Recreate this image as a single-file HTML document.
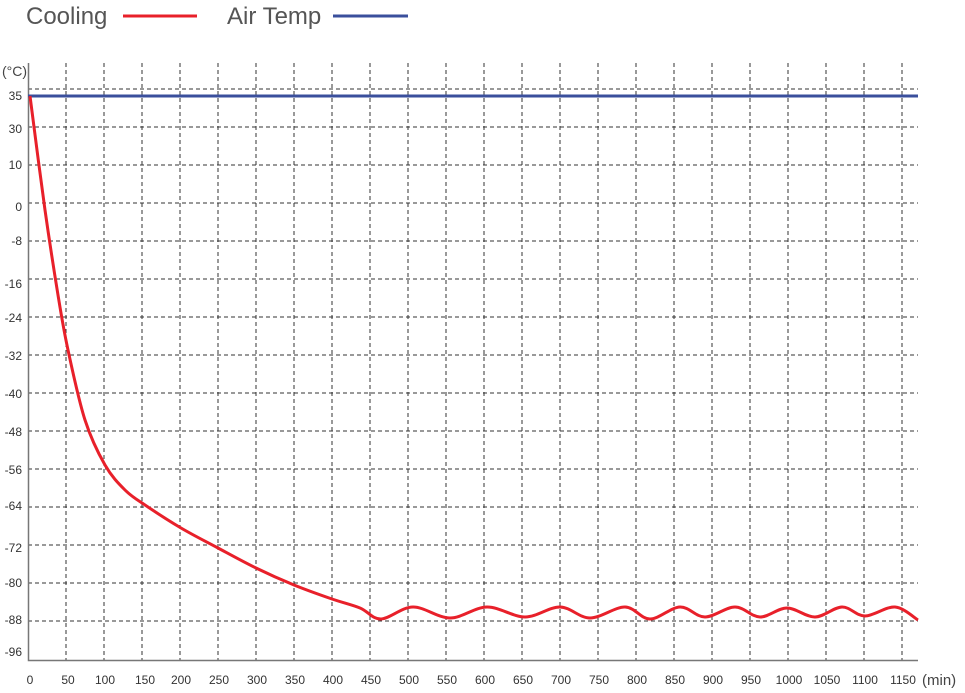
<!DOCTYPE html>
<html><head><meta charset="utf-8"><style>
html,body{margin:0;padding:0;background:#fff;}
svg{display:block;font-family:"Liberation Sans",sans-serif;}
</style></head><body>
<svg width="965" height="693" viewBox="0 0 965 693" xmlns="http://www.w3.org/2000/svg">
<text x="26" y="24" font-size="24" fill="#555">Cooling</text>
<line x1="123" y1="16" x2="197" y2="16" stroke="#e8202a" stroke-width="3"/>
<text x="227" y="24" font-size="24" fill="#555">Air Temp</text>
<line x1="333" y1="16" x2="408" y2="16" stroke="#3a4f9c" stroke-width="3"/>
<text x="2" y="76" font-size="14" fill="#444">(°C)</text>
<g stroke="#333" stroke-width="1" stroke-dasharray="4,3">
<path d="M28 89H918M28 127H918M28 165H918M28 203H918M28 241H918M28 279H918M28 317H918M28 355H918M28 393H918M28 431H918M28 469H918M28 507H918M28 545H918M28 583H918M28 621H918"/>
<path d="M66 63V660M104 63V660M142 63V660M180 63V660M218 63V660M256 63V660M294 63V660M332 63V660M370 63V660M408 63V660M446 63V660M484 63V660M522 63V660M560 63V660M598 63V660M636 63V660M674 63V660M712 63V660M750 63V660M788 63V660M826 63V660M864 63V660M902 63V660"/>
</g>
<path d="M28.5 63V660.5H918" fill="none" stroke="#777" stroke-width="1.5"/>
<line x1="28" y1="96" x2="918" y2="96" stroke="#3a4f9c" stroke-width="3"/>
<path id="cool" d="M30 96 C40 200,55 310,68 350 C80 400,92 440,105 465 C118 485,130 497,145 505 C160 515,170 522,181 528 C200 538,208 543,218 548 C235 558,245 566,256 572 C272 580,282 584,294 588 C310 594,320 597,332 601 C350 607,360 610,370 613 L381 619 C392 614,402 606,413 607 C425 608,438 619,450 618 C465 617,475 607,487 607 C500 608,512 618,525 617 C540 616,550 607,560 607 C572 608,580 619,590 618 C605 617,612 607,625 607 C638 608,642 619,650 619 C665 618,670 607,680 607 C692 608,698 617,705 617 C718 616,725 606,735 607 C748 608,752 617,760 617 C772 616,778 607,787 608 C800 609,806 617,815 617 C828 616,832 607,842 607 C855 608,858 616,865 616 C878 615,885 606,895 607 C905 608,912 614,918 620" fill="none" stroke="#e8202a" stroke-width="3"/>
<g font-size="12" fill="#333" text-anchor="end">
<text x="22" y="100">35</text><text x="22" y="133">30</text><text x="22" y="169">10</text><text x="22" y="211">0</text><text x="22" y="245">-8</text><text x="22" y="288">-16</text><text x="22" y="322">-24</text><text x="22" y="360">-32</text><text x="22" y="398">-40</text><text x="22" y="436">-48</text><text x="22" y="474">-56</text><text x="22" y="510">-64</text><text x="22" y="552">-72</text><text x="22" y="587">-80</text><text x="22" y="624">-88</text><text x="22" y="656">-96</text>
</g>
<g font-size="12" fill="#333" text-anchor="middle">
<text x="30" y="684">0</text><text x="68" y="684">50</text><text x="105" y="684">100</text><text x="145" y="684">150</text><text x="181" y="684">200</text><text x="219" y="684">250</text><text x="257" y="684">300</text><text x="295" y="684">350</text><text x="333" y="684">400</text><text x="371" y="684">450</text><text x="409" y="684">500</text><text x="447" y="684">550</text><text x="485" y="684">600</text><text x="523" y="684">650</text><text x="561" y="684">700</text><text x="599" y="684">750</text><text x="637" y="684">800</text><text x="675" y="684">850</text><text x="713" y="684">900</text><text x="751" y="684">950</text><text x="789" y="684">1000</text><text x="827" y="684">1050</text><text x="865" y="684">1100</text><text x="903" y="684">1150</text>
</g>
<text x="922" y="685" font-size="15" fill="#444">(min)</text>
</svg>
<script>
(function(){
var p=[[30,96],[45,210],[58,295],[68,350],[85,420],[105,465],[125,490],[145,505],[181,528],[218,548],[256,568],[294,585],[332,599],[360,608],[381,619],
[413,607],[450,618],[487,607],[525,617],[560,607],[590,618],[625,607],[650,619],[680,607],[705,617],[735,607],[760,617],[787,608],[815,617],[842,607],[865,616],[895,607],[918,620]];
var d="M"+p[0][0]+" "+p[0][1];
for(var i=0;i<p.length-1;i++){
var p0=p[Math.max(0,i-1)],p1=p[i],p2=p[i+1],p3=p[Math.min(p.length-1,i+2)];
var c1x=p1[0]+(p2[0]-p0[0])/6,c1y=p1[1]+(p2[1]-p0[1])/6,c2x=p2[0]-(p3[0]-p1[0])/6,c2y=p2[1]-(p3[1]-p1[1])/6;
d+=" C"+c1x.toFixed(1)+" "+c1y.toFixed(1)+","+c2x.toFixed(1)+" "+c2y.toFixed(1)+","+p2[0]+" "+p2[1];}
document.getElementById("cool").setAttribute("d",d);
})();
</script>
</body></html>
